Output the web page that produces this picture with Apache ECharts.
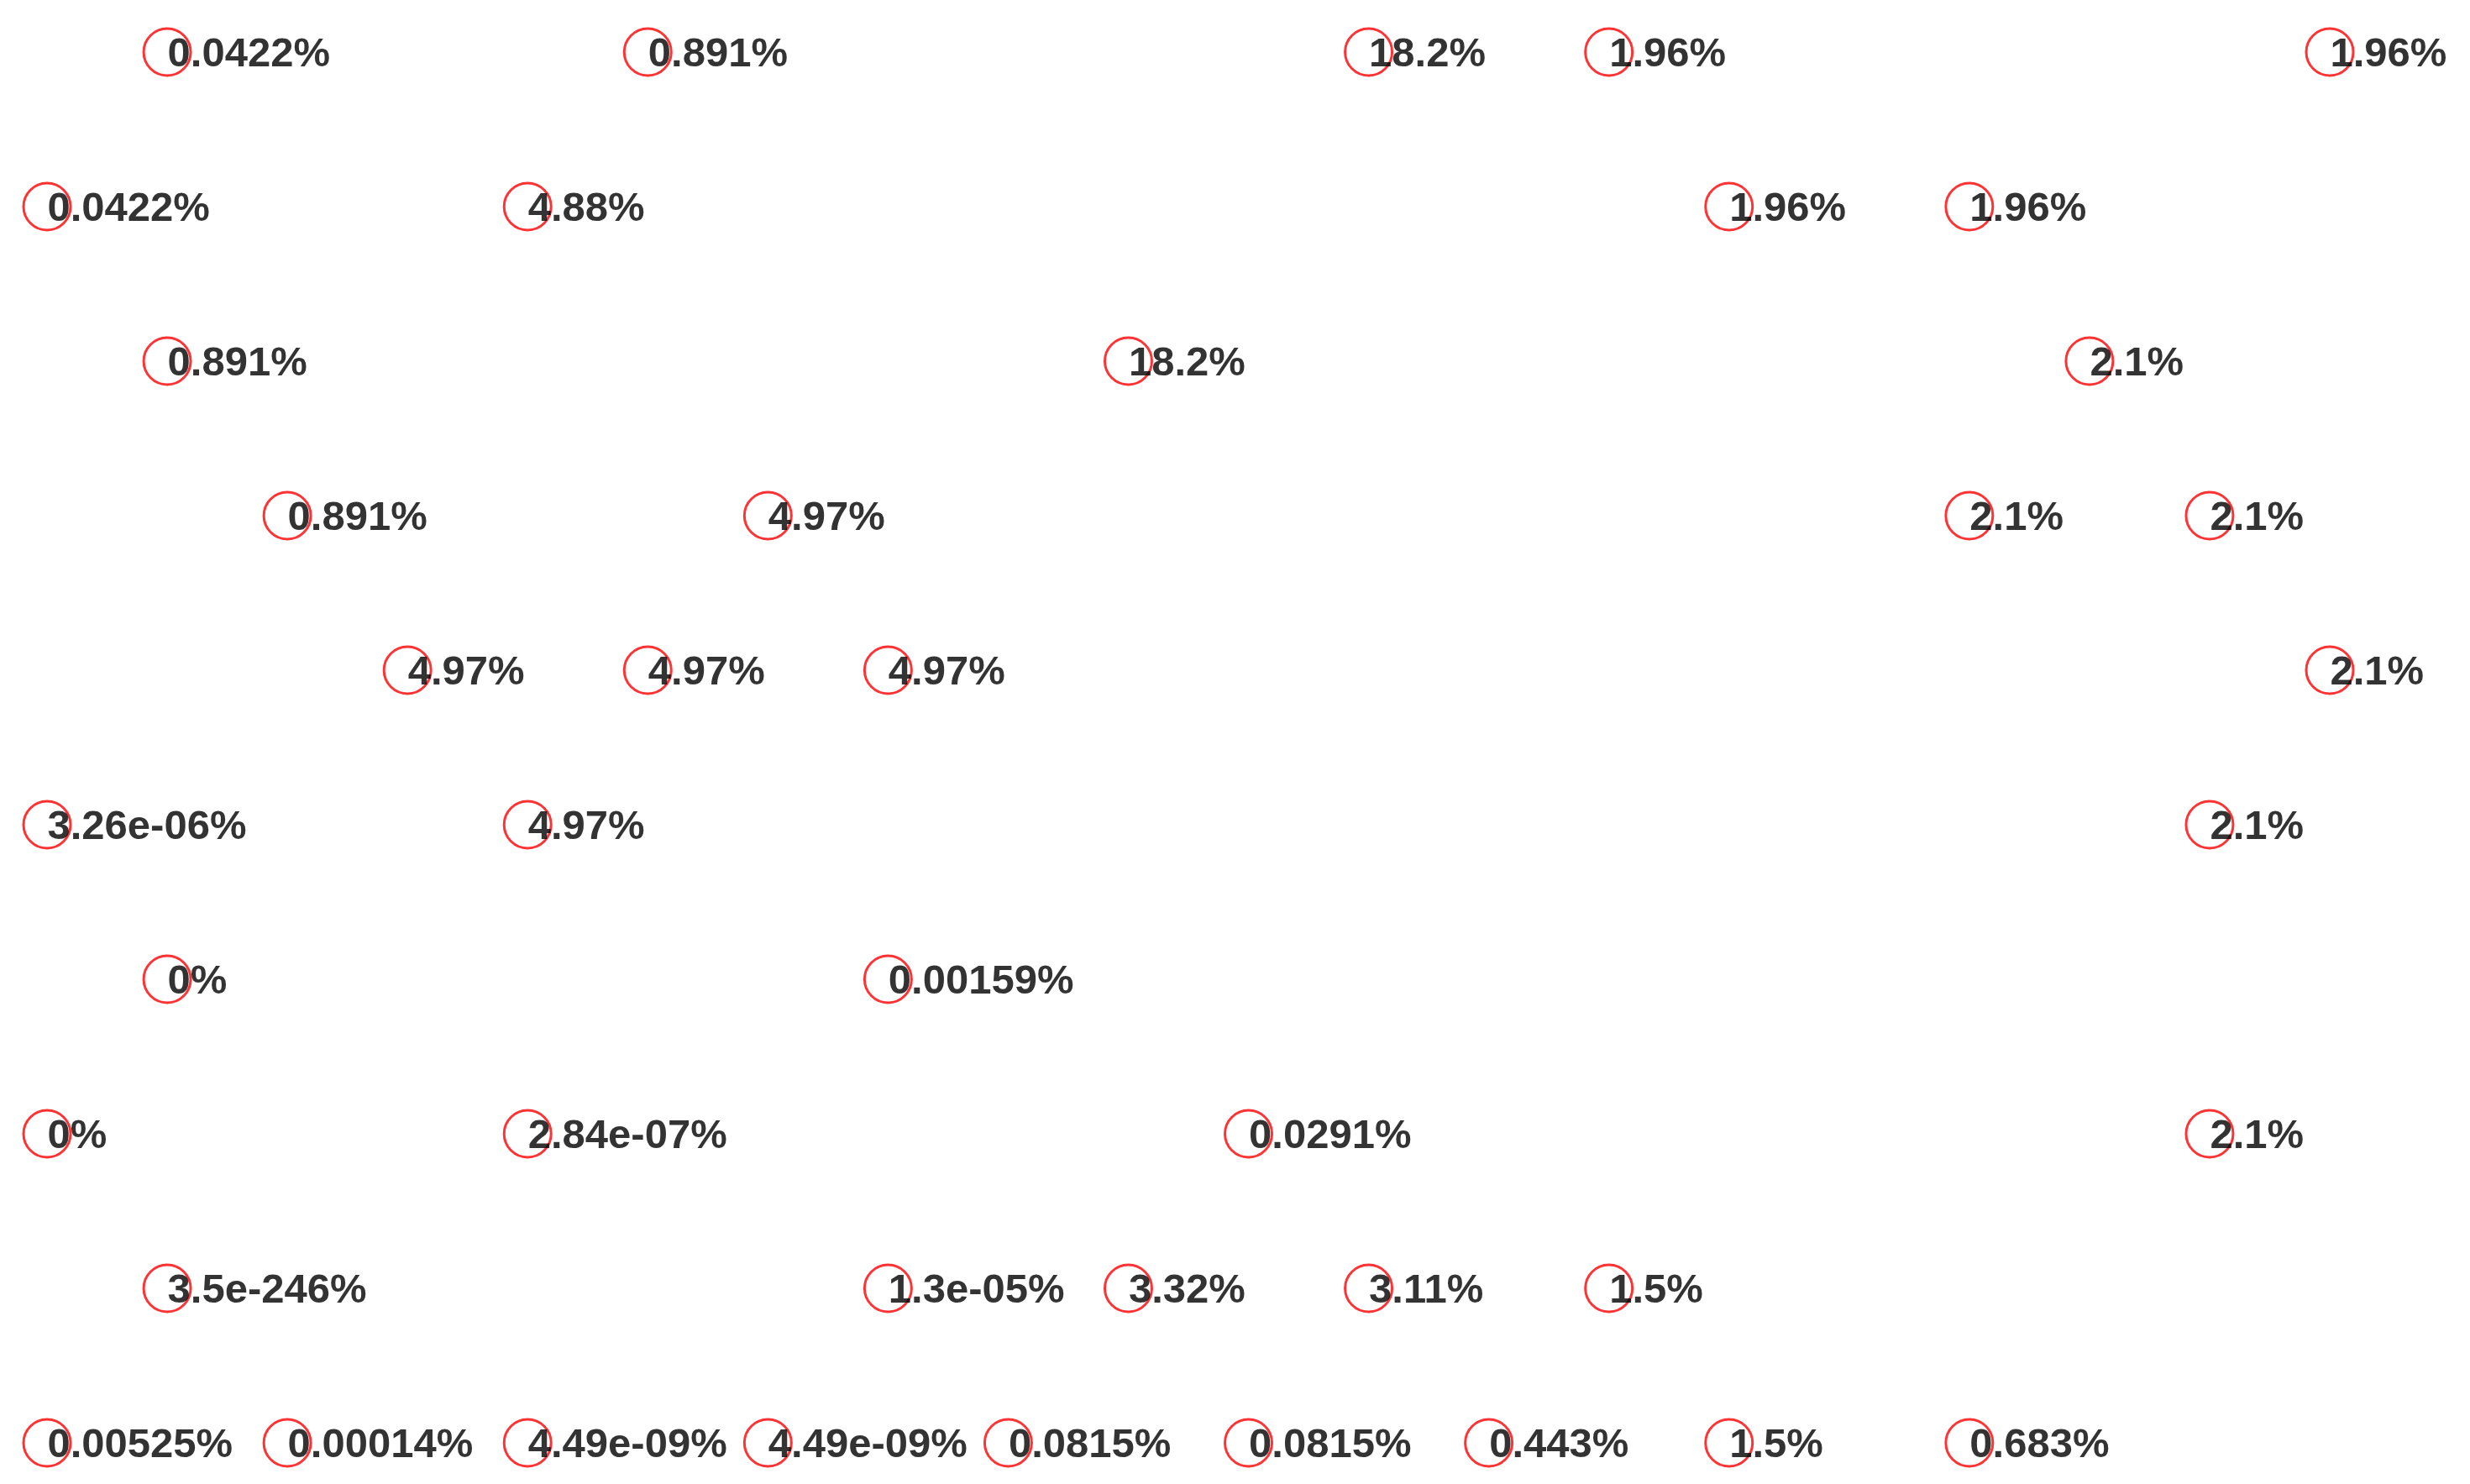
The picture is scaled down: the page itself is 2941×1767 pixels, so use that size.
<!DOCTYPE html>
<html><head><meta charset="utf-8">
<script src="https://cdn.jsdelivr.net/npm/echarts@6/dist/echarts.min.js"></script>
<style>html,body{margin:0;padding:0;background:#fff}#c{width:2941px;height:1767px}</style>
</head><body><div id="c"></div>
<script>
const cols = [1,5,11,13,19, 0,4,14,16, 1,9,17, 2,6,16,18, 3,5,7,19, 0,4,18, 1,7, 0,4,10,18, 1,7,9,11,13, 0,2,4,6,8,10,12,14,16];
const rows = [0,0,0,0,0, 1,1,1,1, 2,2,2, 3,3,3,3, 4,4,4,4, 5,5,5, 6,6, 7,7,7,7, 8,8,8,8,8, 9,9,9,9,9,9,9,9,9];
const labels = ["0.0422%","0.891%","18.2%","1.96%","1.96%",
"0.0422%","4.88%","1.96%","1.96%",
"0.891%","18.2%","2.1%",
"0.891%","4.97%","2.1%","2.1%",
"4.97%","4.97%","4.97%","2.1%",
"3.26e-06%","4.97%","2.1%",
"0%","0.00159%",
"0%","2.84e-07%","0.0291%","2.1%",
"3.5e-246%","1.3e-05%","3.32%","3.11%","1.5%",
"0.00525%","0.00014%","4.49e-09%","4.49e-09%","0.0815%","0.0815%","0.443%","1.5%","0.683%"];
const data = cols.map((c,i)=>({value:[c,rows[i]],label:{formatter:labels[i]}}));
const chart = echarts.init(document.getElementById('c'));
chart.setOption({
  animation:false,
  grid:{left:56,right:167,top:62,bottom:49},
  xAxis:{type:'value',min:0,max:19,show:false},
  yAxis:{type:'value',min:0,max:9,inverse:true,show:false},
  series:[{type:'scatter',data:data,symbol:'circle',symbolSize:56,
    itemStyle:{color:'rgba(0,0,0,0)',borderColor:'#ff0000',borderWidth:3},
    label:{show:true,position:[30,33],align:'left',verticalAlign:'middle',
      fontFamily:'Liberation Sans, Arial, sans-serif',fontWeight:'bold',fontSize:49,color:'#000',
      textBorderWidth:0}}]
});
</script></body></html>
